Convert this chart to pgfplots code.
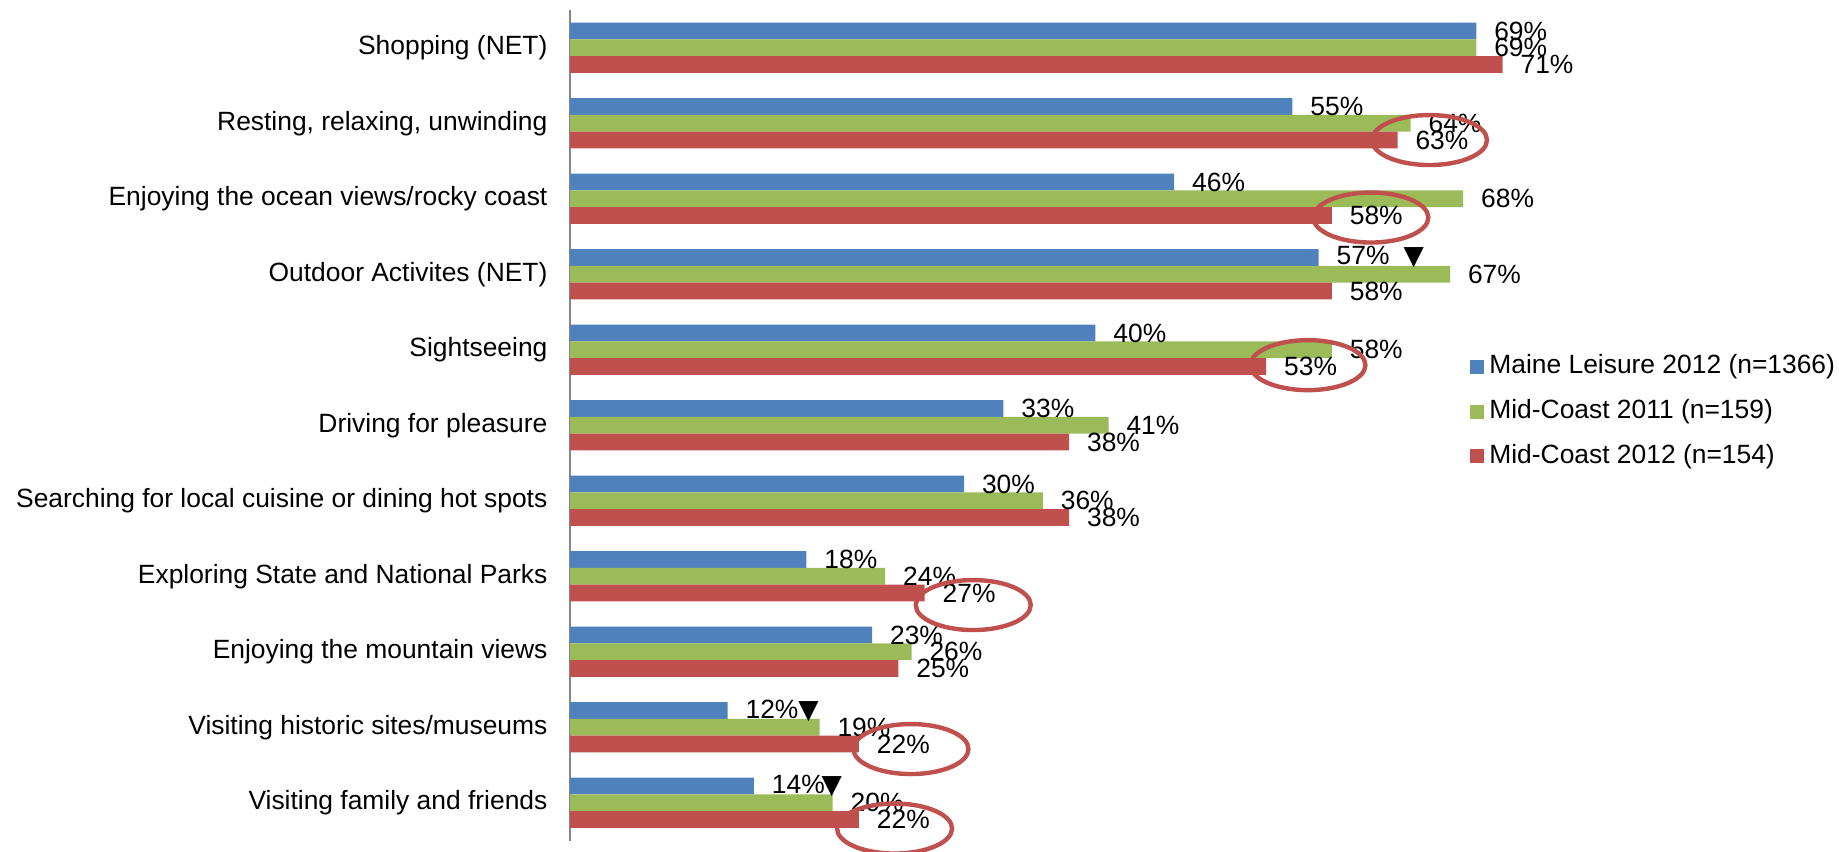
\documentclass[border=0pt]{standalone}
\usepackage{pgfplots}
\pgfplotsset{compat=1.18}
\usepackage{pgfplotstable}
\usepackage{fontspec}
\setmainfont{Liberation Sans}
\newfontfamily\symfont{DejaVu Sans}
\usetikzlibrary{shapes.geometric}

\definecolor{cblue}{HTML}{4F81BD}
\definecolor{cgreen}{HTML}{9BBB59}
\definecolor{cred}{HTML}{C0504D}
\definecolor{caxis}{HTML}{868686}
\newcommand{\lbl}{\fontsize{13.2}{15.8}\selectfont}

% y: 10 = Shopping (top) ... 0 = Visiting family and friends (bottom)
\pgfplotstableread{
y v tri gap
10 69 0 0
9 55 0 0
8 46 0 0
7 57 1 7
6 40 0 0
5 33 0 0
4 30 0 0
3 18 0 0
2 23 0 0
1 12 1 0
0 14 1 -1.5
}\maine
\pgfplotstableread{
y v tri gap
10 69 0 0
9 64 0 0
8 68 0 0
7 67 0 0
6 58 0 0
5 41 0 0
4 36 0 0
3 24 0 0
2 26 0 0
1 19 0 0
0 20 0 0
}\mcone
\pgfplotstableread{
y v tri gap
10 71 0 0
9 63 0 0
8 58 0 0
7 58 0 0
6 53 0 0
5 38 0 0
4 38 0 0
3 27 0 0
2 25 0 0
1 22 0 0
0 22 0 0
}\mctwo
% circled labels of Mid-Coast 2012
\pgfplotstableread{
y v dx dy
9 63 16 0
8 58 19.5 1
6 53 20.9 -0.7
3 27 24.3 6
1 22 26 2.5
0 22 17.8 4.5
}\ells

\pgfplotsset{
  lbls/.style={
    point meta=x,
    visualization depends on={\thisrow{tri} \as \tri},
    visualization depends on={\thisrow{gap} \as \gap},
    nodes near coords={\pgfmathprintnumber{\pgfplotspointmeta}\%\ifdim\tri pt>0.5pt\hspace{\gap pt}{\symfont ▼}\fi},
    nodes near coords style={font=\lbl, text=black, anchor=west, inner sep=0pt, xshift=8.8pt, yshift=#1,
      /pgf/number format/assume math mode=true},
  },
}

\begin{document}
\begin{tikzpicture}
\path[use as bounding box] (0,0) rectangle (919.5pt,425.5pt);
\begin{axis}[
  at={(285pt,5.25pt)}, anchor=south west,
  width=525.4pt, height=415.25pt, scale only axis,
  xmin=0, xmax=80, ymin=-0.5, ymax=10.5,
  axis x line=none,
  axis y line*=left,
  y axis line style={caxis, line width=0.9pt, -},
  ytick={0,...,10},
  yticklabels={Visiting family and friends, Visiting historic sites/museums, Enjoying the mountain views, Exploring State and National Parks, Searching for local cuisine or dining hot spots, Driving for pleasure, Sightseeing, Outdoor Activites (NET), Enjoying the ocean views/rocky coast, {Resting, relaxing, unwinding}, Shopping (NET)},
  tick align=outside,
  major tick length=3.8pt,
  ytick style={draw=none},
  yticklabel style={font=\lbl, anchor=east, inner sep=0pt, xshift=-7.3pt},
  extra y ticks={-0.5,0.5,...,10.5},
  extra y tick labels={},
  extra y tick style={tick style={draw=caxis, line width=0.9pt}},
  legend style={at={(0.856,0.5163)}, anchor=west, draw=none, fill=none, inner sep=0pt,
    font=\lbl, row sep=10pt, legend cell align=left,
    nodes={inner sep=0pt, text height=9.5pt, text depth=2.8pt},
    /tikz/every odd column/.append style={column sep=2.75pt}},
  legend image code/.code={\fill[#1] (0pt,-3.5pt) rectangle (7pt,3.5pt);},
  clip=false,
]
\addplot[xbar, bar width=8.4pt, bar shift=8.4pt, fill=cblue, draw=none, lbls=8.4pt] table[x=v,y=y]{\maine};
\addlegendentry{Maine Leisure 2012 (n=1366)}
\addplot[xbar, bar width=8.4pt, bar shift=0pt, fill=cgreen, draw=none, lbls=0pt] table[x=v,y=y]{\mcone};
\addlegendentry{Mid-Coast 2011 (n=159)}
\addplot[xbar, bar width=8.4pt, bar shift=-8.4pt, fill=cred, draw=none, lbls=-8.4pt] table[x=v,y=y]{\mctwo};
\addlegendentry{Mid-Coast 2012 (n=154)}
\addplot[draw=none, mark=none, forget plot, point meta=x,
  visualization depends on={\thisrow{dx} \as \edx},
  visualization depends on={\thisrow{dy} \as \edy},
  nodes near coords={},
  nodes near coords style={ellipse, draw=cred, line width=2.2pt, minimum width=57.5pt, minimum height=25pt, inner sep=0pt, anchor=center, xshift=\edx pt, yshift=-8.4pt-(\edy pt)}]
  table[x=v,y=y]{\ells};
\end{axis}
\end{tikzpicture}
\end{document}
